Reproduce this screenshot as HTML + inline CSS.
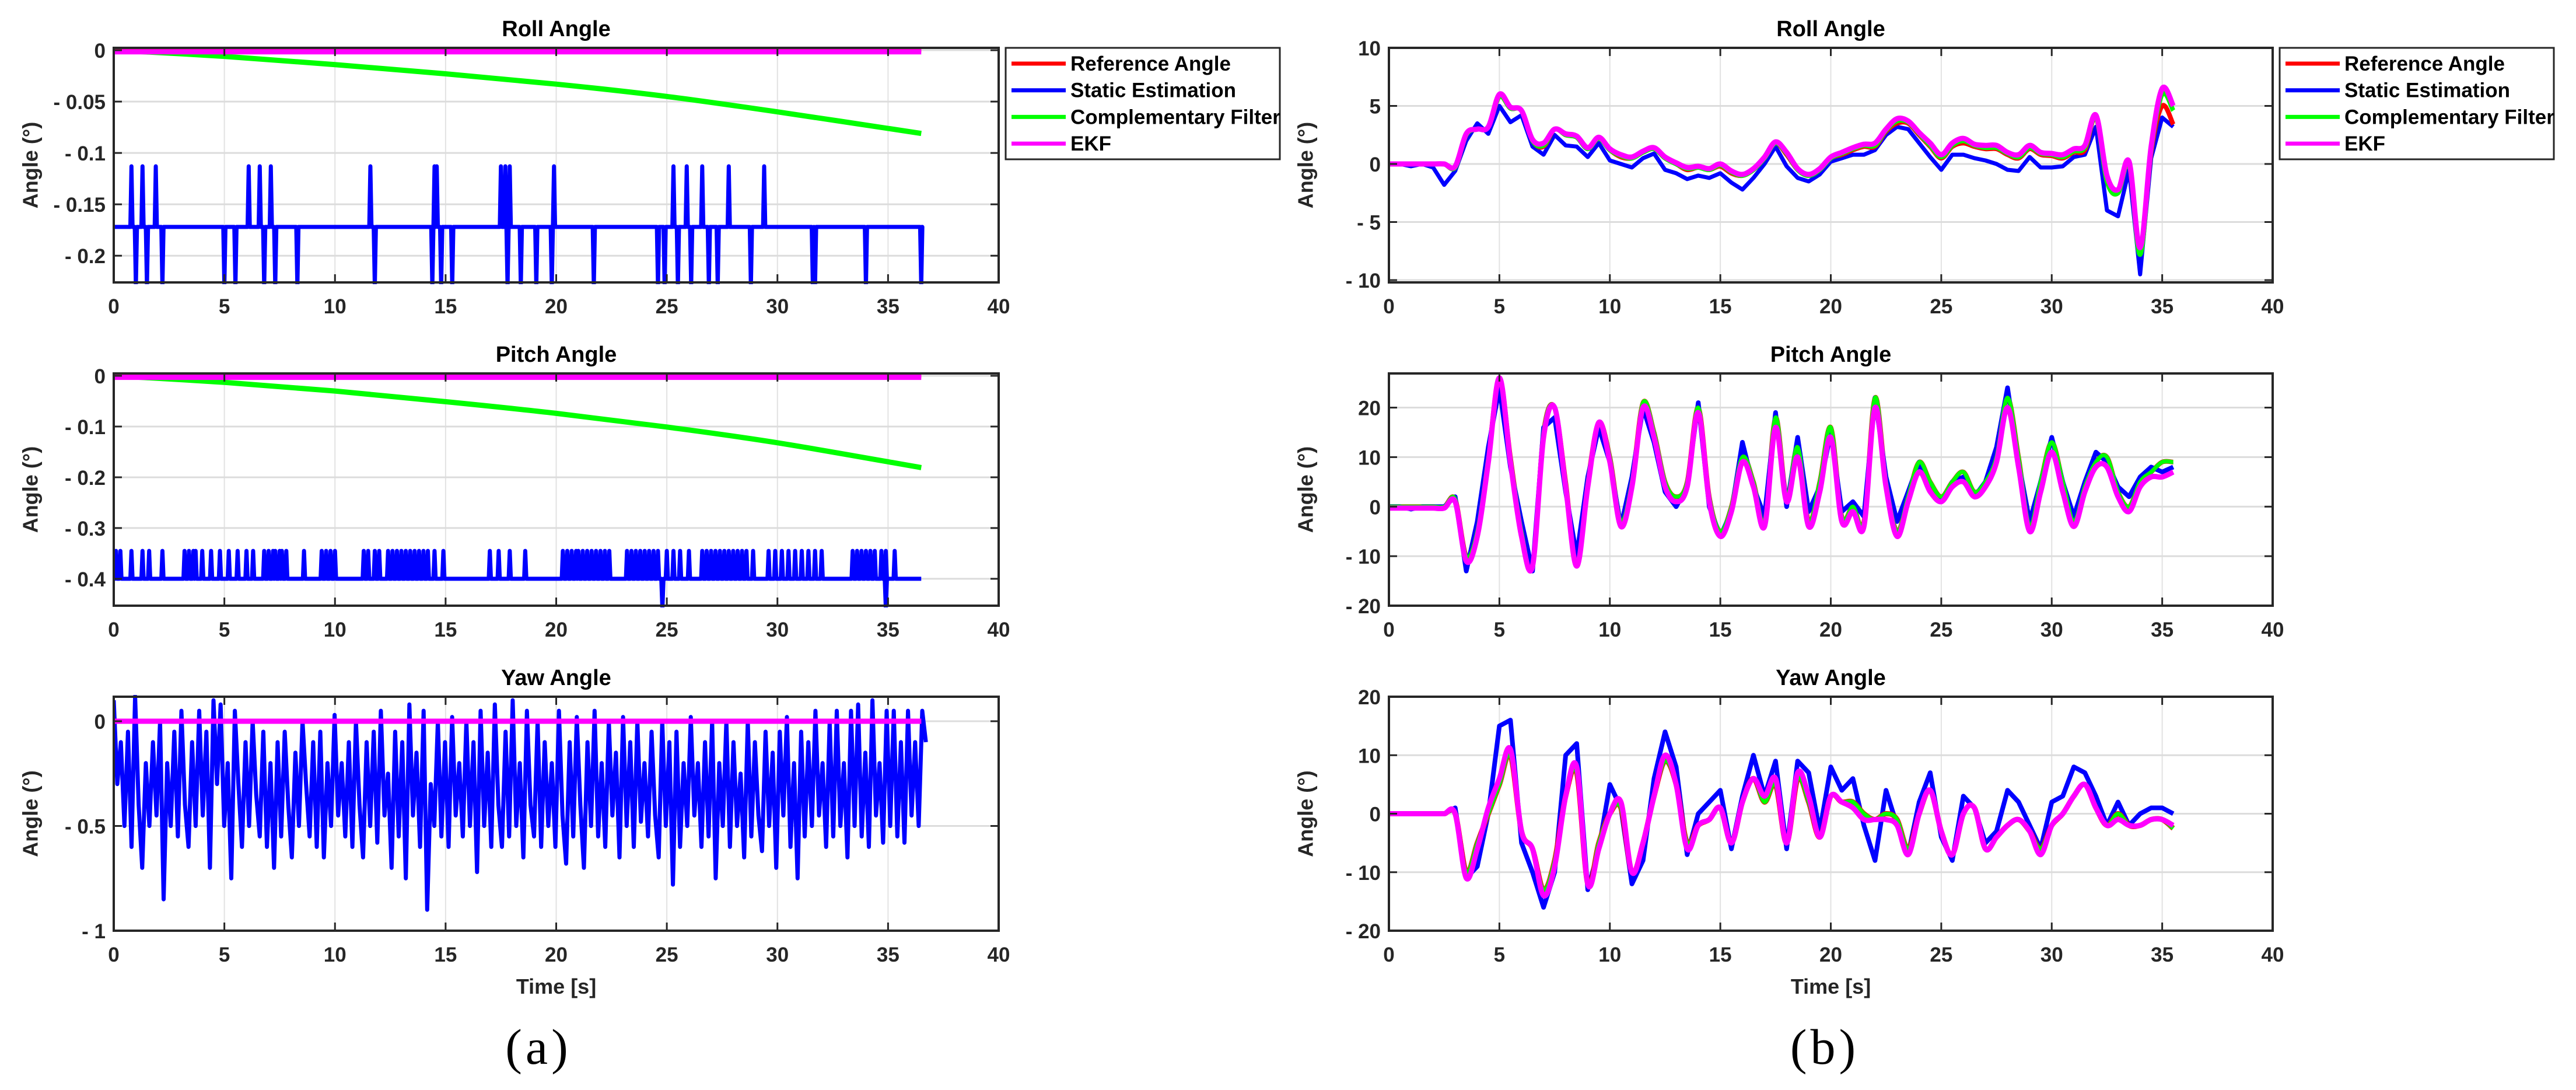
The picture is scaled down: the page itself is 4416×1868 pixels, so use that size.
<!DOCTYPE html>
<html><head><meta charset="utf-8">
<style>
html,body{margin:0;padding:0;background:#fff;}
svg{display:block;font-family:"Liberation Sans",Arial,sans-serif;}
</style></head>
<body>
<svg id="fig" width="4416" height="1868" viewBox="0 0 4416 1868" xmlns="http://www.w3.org/2000/svg">
<rect x="0" y="0" width="4416" height="1868" fill="#fff"/>
</svg>
<script>
// ---------- data ----------
const xTicks = [0,5,10,15,20,25,30,35,40];
// left (a) roll
const compRollT = [0,5,10,15,20,25,30,36.5];
const compRollV = [0,-0.006,-0.014,-0.023,-0.033,-0.045,-0.060,-0.081];
const staticRollBase = -0.172;
const staticRollUpT = [0.8,1.3,1.9,6.1,6.6,7.1,11.6,14.5,14.6,17.5,17.7,17.9,19.9,25.3,25.9,26.6,27.8,29.4];
const staticRollUpV = -0.113;
const staticRollDnT = [1.0,1.5,2.2,5.0,5.5,6.8,7.3,8.3,11.8,14.4,14.8,15.3,17.8,18.4,19.1,19.8,21.7,24.6,24.9,25.5,26.1,26.9,27.3,28.8,31.6,31.7,34.0,36.5];
const staticRollDnV = -0.23;
// left pitch
const compPitchT = [0,5,10,15,20,25,30,36.5];
const compPitchV = [0,-0.013,-0.030,-0.051,-0.074,-0.101,-0.132,-0.181];
const staticPitchBase = -0.40;
const staticPitchUpT = [0.1,0.3,0.8,1.3,1.6,2.2,3.2,3.4,3.6,3.7,4.0,4.4,4.8,5.2,5.6,6.0,6.3,6.8,7.0,7.2,7.3,7.5,7.6,7.8,8.6,9.4,9.6,9.8,10.0,11.3,11.5,11.8,12.0,12.4,12.6,12.8,13.0,13.2,13.4,13.6,13.8,14.0,14.2,14.5,14.9,17.0,17.4,17.9,18.6,20.3,20.5,20.7,20.9,21.0,21.2,21.4,21.6,21.8,22.0,22.2,22.4,23.2,23.4,23.6,23.8,24.0,24.2,24.4,24.6,25.0,25.3,25.6,26.0,26.6,26.8,27.0,27.2,27.4,27.6,27.8,28.0,28.2,28.4,28.6,28.9,29.6,29.9,30.2,30.5,30.8,31.1,31.4,31.7,32.0,33.4,33.6,33.8,34.0,34.2,34.4,34.7,34.9,35.3];
const staticPitchUpV = -0.345;
const staticPitchDnT = [24.8,34.9];
const staticPitchDnV = -0.46;
// left yaw (static estimation extrema, dt = 0.161 s)
const staticYawV = [0.1,-0.3,-0.1,-0.5,-0.05,-0.6,0.12,-0.4,-0.7,-0.2,-0.5,-0.1,-0.45,0.0,-0.85,-0.2,-0.5,-0.05,-0.55,0.05,-0.4,-0.6,-0.1,-0.5,0.05,-0.45,-0.05,-0.7,0.1,-0.3,0.08,-0.5,-0.2,-0.75,0.05,-0.3,-0.6,-0.1,-0.5,0.0,-0.35,-0.55,-0.05,-0.6,-0.2,-0.7,-0.1,-0.55,-0.05,-0.4,-0.65,-0.15,-0.5,0.0,-0.3,-0.55,-0.1,-0.6,-0.05,-0.65,-0.2,-0.5,0.03,-0.45,-0.2,-0.55,-0.1,-0.6,0.0,-0.4,-0.65,-0.1,-0.5,-0.05,-0.58,0.05,-0.45,-0.25,-0.7,-0.05,-0.55,-0.1,-0.75,0.08,-0.45,-0.15,-0.6,0.05,-0.9,-0.3,-0.5,0.0,-0.55,-0.1,-0.6,0.02,-0.45,-0.2,-0.55,0.0,-0.5,-0.1,-0.72,0.05,-0.5,-0.15,-0.6,0.08,-0.4,-0.6,-0.05,-0.55,0.1,-0.5,-0.2,-0.65,0.05,-0.4,-0.55,0.0,-0.6,-0.1,-0.5,-0.2,-0.6,0.05,-0.45,-0.68,-0.1,-0.55,0.02,-0.4,-0.7,-0.1,-0.5,0.05,-0.55,-0.2,-0.6,0.0,-0.45,-0.15,-0.65,0.02,-0.5,-0.1,-0.6,0.0,-0.48,-0.2,-0.55,-0.05,-0.45,-0.65,0.0,-0.5,-0.1,-0.78,-0.05,-0.6,-0.2,-0.5,0.02,-0.45,-0.2,-0.6,-0.1,-0.55,0.0,-0.75,-0.2,-0.5,0.0,-0.6,-0.1,-0.5,-0.25,-0.65,0.0,-0.55,-0.1,-0.45,-0.62,-0.05,-0.5,-0.15,-0.7,-0.05,-0.45,0.02,-0.6,-0.2,-0.75,-0.05,-0.55,-0.1,-0.5,0.05,-0.45,-0.2,-0.6,0.0,-0.55,0.05,-0.5,-0.2,-0.65,0.05,-0.5,0.08,-0.55,-0.15,-0.6,0.1,-0.45,-0.2,-0.58,0.05,-0.5,0.05,-0.55,-0.1,-0.58,0.05,-0.45,-0.1,-0.5,0.05,-0.1];
const staticYawDt = 0.161;
const leftEndT = 36.5;
// right (b) roll, sampled every 0.5 s
const rT = 0.5;
const refRoll = [0,0,0,0,0,0,-0.3,2.5,3.0,3.2,5.8,4.8,4.6,2.0,1.5,3.0,2.5,2.3,1.3,2.2,1.2,0.6,0.5,1.0,1.3,0.5,0.0,-0.5,-0.3,-0.5,-0.2,-0.8,-1.0,-0.5,0.5,1.8,0.8,-0.5,-1.0,-0.5,0.5,0.8,1.2,1.5,1.5,2.8,3.5,3.5,2.5,1.5,0.5,1.5,1.8,1.5,1.3,1.3,0.8,0.5,1.3,0.8,0.7,0.5,1.0,1.2,4.0,-1.5,-2.5,0.0,-7.5,1.0,5.0,3.4];
const staticRoll = [0,0,-0.2,0,-0.3,-1.8,-0.6,2.0,3.5,2.6,5.0,3.6,4.2,1.5,0.8,2.5,1.6,1.5,0.6,1.8,0.3,0.0,-0.3,0.5,0.9,-0.5,-0.8,-1.3,-1.0,-1.2,-0.8,-1.6,-2.2,-1.2,0.0,1.5,-0.2,-1.2,-1.5,-0.9,0.2,0.5,0.8,0.8,1.2,2.5,3.2,3.0,1.8,0.6,-0.5,0.8,0.8,0.5,0.3,0.0,-0.5,-0.6,0.6,-0.3,-0.3,-0.2,0.6,0.8,3.2,-4.0,-4.5,-0.5,-9.5,0.5,4.0,3.2];
const ekfRoll = [0,0,0,0,0,0,-0.2,2.6,3.0,3.2,6.0,4.9,4.6,2.1,1.8,3.0,2.6,2.4,1.4,2.3,1.3,0.8,0.6,1.1,1.4,0.6,0.1,-0.3,-0.2,-0.4,0.0,-0.6,-0.9,-0.4,0.6,1.9,1.0,-0.4,-0.9,-0.4,0.6,1.0,1.4,1.7,1.8,3.0,3.9,3.7,2.7,1.8,0.8,1.8,2.2,1.7,1.6,1.6,1.0,0.8,1.6,1.0,0.9,0.8,1.3,1.6,4.2,-1.0,-2.2,0.2,-7.2,1.5,6.5,5.0];
const compRoll = [0,0,0,0,0,0,-0.3,2.5,3.0,3.2,5.8,4.8,4.6,2.0,1.6,3.0,2.5,2.3,1.3,2.2,1.2,0.7,0.5,1.0,1.3,0.5,0.0,-0.4,-0.3,-0.5,-0.1,-0.7,-1.0,-0.5,0.5,1.8,0.9,-0.5,-1.0,-0.5,0.5,0.9,1.3,1.6,1.6,2.9,3.7,3.6,2.6,1.6,0.6,1.6,2.0,1.6,1.4,1.4,0.9,0.6,1.4,0.9,0.8,0.6,1.1,1.4,4.0,-1.5,-2.5,0.0,-7.8,1.2,6.0,4.6];
// right pitch
const refPitch = [0,0,0,0,0,0,1.5,-10,-5,10,26,10,-5,-12,15,20,5,-12,5,17,10,-3,5,21,15,5,2,5,20,2,-5,0,10,5,-3,18,2,12,-3,5,16,-2,0,-3,22,5,-5,2,9,5,2,5,7,3,5,10,22,10,-4,5,13,5,-3,4,9,10,3,0,5,7,9,9];
const staticPitch = [0,0,-0.5,0,0,0,2,-13,-3,12,24,8,-3,-13,16,18,3,-10,6,16,9,-4,6,20,13,3,0,4,21,0,-6,-1,13,4,-2,19,0,14,-1,4,15,-1,1,-2,22,6,-3,3,9,3,1,5,6,2,5,12,24,9,-3,5,14,5,-2,5,11,9,4,2,6,8,7,8];
const ekfPitch = [-0.3,-0.3,-0.3,-0.3,-0.3,-0.3,1,-11,-6,9,26,9,-6,-12,14,20,4,-12,4,17,9,-4,4,20,14,4,1,4,19,1,-6,-1,9,4,-4,16,1,10,-4,3,14,-3,-1,-4,20,4,-6,1,7,3,1,4,5,2,4,9,20,8,-5,3,11,3,-4,3,8,8,2,-1,4,6,6,7];
// right yaw
const refYaw = [0,0,0,0,0,0,0,-10,-5,0,5,10,-3,-6,-13,-8,3,7,-12,-5,0,1,-10,-5,3,9,5,-5,-2,-1,1,-5,2,6,2,5,-5,6,2,-4,3,2,2,0,-1,0,-1,-6,0,4,-3,-7,0,1,-6,-4,-2,-1,-3,-6,-2,0,3,5,1,-2,0,-2,-2,-1,-1,-2.5];
const staticYaw = [0,0,0,0,0,0,1,-11,-9,0,15,16,-5,-10,-16,-10,10,12,-13,-6,5,1,-12,-8,6,14,8,-7,0,2,4,-6,3,10,3,9,-6,9,7,-3,8,4,6,-2,-8,4,-2,-7,2,7,-4,-8,3,1,-5,-3,4,2,-2,-6,2,3,8,7,3,-2,2,-2,0,1,1,0];
const ekfYaw = [0,0,0,0,0,0,0,-11,-6,1,6,11,-3,-6,-14,-9,3,8,-12,-6,0,2,-10,-5,3,10,5,-6,-2,-1,1,-5,2,6,3,6,-5,7,3,-4,3,2,1,-1,-1,-1,-2,-7,0,4,-3,-7,0,1,-6,-4,-2,-1,-3,-7,-2,0,3,5,1,-2,-1,-2,-2,-1,-1,-2];

// ---------- layout ----------
const NS = "http://www.w3.org/2000/svg";
const fig = document.getElementById('fig');
function el(tag, attrs, parent){
  const e = document.createElementNS(NS, tag);
  for (const k in attrs) e.setAttribute(k, attrs[k]);
  (parent||fig).appendChild(e);
  return e;
}
const COLS = [{x0:195,x1:1712},{x0:2381,x1:3896}];
const ROWS = [{y0:82,y1:484},{y0:640,y1:1038},{y0:1194,y1:1595}];

function makeAxes(col,row,ymin,ymax,yTicks,yLabels,title,name,showXLabel){
  const c = COLS[col], r = ROWS[row];
  const g = el('g',{});
  
  
  const sx = t => c.x0 + t/40*(c.x1-c.x0);
  const sy = v => r.y0 + (ymax-v)/(ymax-ymin)*(r.y1-r.y0);
  xTicks.forEach(t=>{
    if(t>0 && t<40){ const gl = el('line',{x1:sx(t),x2:sx(t),y1:r.y0,y2:r.y1,stroke:'#e2e2e2','stroke-width':2},g);
        }
  });
  yTicks.forEach(v=>{
    const gl = el('line',{x1:c.x0,x2:c.x1,y1:sy(v),y2:sy(v),stroke:'#dcdcdc','stroke-width':3},g);
     
  });
  const tt = el('text',{x:(c.x0+c.x1)/2,y:r.y0-20,'text-anchor':'middle','font-size':38,'font-weight':'bold',fill:'#000'},g);
  tt.textContent = title;
   
  const cy = (r.y0+r.y1)/2, lx = c.x0-140;
  const yl = el('text',{x:lx,y:cy,'text-anchor':'middle','font-size':36,'font-weight':'bold',fill:'#262626',transform:`rotate(-90 ${lx} ${cy})`,'dominant-baseline':'middle'},g);
  yl.textContent = 'Angle (°)';
   
  return {g,sx,sy,c,r,yTicks,yLabels,showXLabel};
}
function finishAxes(A){
  const {g,sx,sy,c,r,yTicks,yLabels,showXLabel} = A;
  el('rect',{x:c.x0,y:r.y0,width:c.x1-c.x0,height:r.y1-r.y0,fill:'none',stroke:'#262626','stroke-width':4},g);
  xTicks.forEach(t=>{
    el('line',{x1:sx(t),x2:sx(t),y1:r.y1,y2:r.y1-14,stroke:'#262626','stroke-width':3},g);
    el('line',{x1:sx(t),x2:sx(t),y1:r.y0,y2:r.y0+14,stroke:'#262626','stroke-width':3},g);
    const tl = el('text',{x:sx(t),y:r.y1+53,'text-anchor':'middle','font-size':35,'font-weight':'bold',fill:'#262626'},g);
    tl.textContent = String(t);
     
  });
  yTicks.forEach((v,i)=>{
    el('line',{x1:c.x0,x2:c.x0+14,y1:sy(v),y2:sy(v),stroke:'#262626','stroke-width':3},g);
    el('line',{x1:c.x1,x2:c.x1-14,y1:sy(v),y2:sy(v),stroke:'#262626','stroke-width':3},g);
    const tl = el('text',{x:c.x0-14,y:sy(v)+13,'text-anchor':'end','font-size':35,'font-weight':'bold',fill:'#262626'},g);
    tl.textContent = yLabels[i];
     
  });
  if(showXLabel){
    const xl = el('text',{x:(c.x0+c.x1)/2,y:1703,'text-anchor':'middle','font-size':36,'font-weight':'bold',fill:'#262626'},g);
    xl.textContent = 'Time [s]';
     
  }
}
function clipFor(A,id){
  const cp = el('clipPath',{id:id},A.g);
  el('rect',{x:A.c.x0,y:A.r.y0-3,width:A.c.x1-A.c.x0,height:A.r.y1-A.r.y0+6},cp);
  return `url(#${id})`;
}
function polyPath(A,ts,vs){
  return ts.map((t,i)=>(i?'L':'M')+A.sx(t).toFixed(1)+','+A.sy(vs[i]).toFixed(1)).join(' ');
}
function smoothPath(A,ts,vs){
  const P = ts.map((t,i)=>[A.sx(t),A.sy(vs[i])]);
  let d = `M${P[0][0].toFixed(1)},${P[0][1].toFixed(1)}`;
  for(let i=0;i<P.length-1;i++){
    const p0=P[Math.max(0,i-1)],p1=P[i],p2=P[i+1],p3=P[Math.min(P.length-1,i+2)];
    const c1=[p1[0]+(p2[0]-p0[0])/6,p1[1]+(p2[1]-p0[1])/6];
    const c2=[p2[0]-(p3[0]-p1[0])/6,p2[1]-(p3[1]-p1[1])/6];
    d+=` C${c1[0].toFixed(1)},${c1[1].toFixed(1)} ${c2[0].toFixed(1)},${c2[1].toFixed(1)} ${p2[0].toFixed(1)},${p2[1].toFixed(1)}`;
  }
  return d;
}
function drawPath(A,d,color,w,clip,name){
  const p = el('path',{d:d,fill:'none',stroke:color,'stroke-width':w,'stroke-linejoin':'round','clip-path':clip},A.g);
  
  
  return p;
}
function spikePath(A,base,upT,upV,dnT,dnV,tEnd){
  const ev = upT.map(t=>[t,upV]).concat(dnT.map(t=>[t,dnV])).sort((a,b)=>a[0]-b[0]);
  let d = `M${A.sx(0)},${A.sy(base)}`;
  ev.forEach(([t,v])=>{
    d+=` L${A.sx(t-0.05)},${A.sy(base)} L${A.sx(t)},${A.sy(v)} L${A.sx(t+0.05)},${A.sy(base)}`;
  });
  d+=` L${A.sx(tEnd)},${A.sy(base)}`;
  return d;
}
function idxT(arr,dt){ return arr.map((_,i)=>i*dt); }

// ---------- (a) roll ----------
let A = makeAxes(0,0,-0.226,0.0023,[0,-0.05,-0.1,-0.15,-0.2],['0','- 0.05','- 0.1','- 0.15','- 0.2'],'Roll Angle','roll-chart-a',false);
let cl = clipFor(A,'c1');
drawPath(A,spikePath(A,staticRollBase,staticRollUpT,staticRollUpV,staticRollDnT,staticRollDnV,leftEndT),'#0000ff',7,cl,'static-estimation-line');
drawPath(A,smoothPath(A,compRollT,compRollV),'#00ff00',9,cl,'complementary-filter-line');
drawPath(A,polyPath(A,[0,leftEndT],[0.0005,0.0005]),'#ff0000',9,cl,'reference-angle-line');
drawPath(A,polyPath(A,[0,leftEndT],[-0.0015,-0.0015]),'#ff00ff',9,cl,'ekf-line');
finishAxes(A);
// ---------- (a) pitch ----------
A = makeAxes(0,1,-0.453,0.0046,[0,-0.1,-0.2,-0.3,-0.4],['0','- 0.1','- 0.2','- 0.3','- 0.4'],'Pitch Angle','pitch-chart-a',false);
cl = clipFor(A,'c2');
drawPath(A,spikePath(A,staticPitchBase,staticPitchUpT,staticPitchUpV,staticPitchDnT,staticPitchDnV,leftEndT),'#0000ff',7,cl,'static-estimation-line');
drawPath(A,smoothPath(A,compPitchT,compPitchV),'#00ff00',9,cl,'complementary-filter-line');
drawPath(A,polyPath(A,[0,leftEndT],[0.001,0.001]),'#ff0000',9,cl,'reference-angle-line');
drawPath(A,polyPath(A,[0,leftEndT],[-0.003,-0.003]),'#ff00ff',9,cl,'ekf-line');
finishAxes(A);
// ---------- (a) yaw ----------
A = makeAxes(0,2,-1,0.117,[0,-0.5,-1],['0','- 0.5','- 1'],'Yaw Angle','yaw-chart-a',true);
cl = clipFor(A,'c3');
drawPath(A,polyPath(A,idxT(staticYawV,staticYawDt),staticYawV),'#0000ff',7,cl,'static-estimation-line');
drawPath(A,polyPath(A,[0,leftEndT],[0,0]),'#ff0000',9,cl,'reference-angle-line');
drawPath(A,polyPath(A,[0,leftEndT],[0,0]),'#ff00ff',9,cl,'ekf-line');
finishAxes(A);
// ---------- (b) roll ----------
A = makeAxes(1,0,-10.2,10,[10,5,0,-5,-10],['10','5','0','- 5','- 10'],'Roll Angle','roll-chart-b',false);
cl = clipFor(A,'c4');
drawPath(A,polyPath(A,idxT(staticRoll,rT),staticRoll),'#0000ff',7,cl,'static-estimation-line');
drawPath(A,smoothPath(A,idxT(refRoll,rT),refRoll),'#ff0000',8,cl,'reference-angle-line');
drawPath(A,smoothPath(A,idxT(compRoll,rT),compRoll),'#00ff00',8,cl,'complementary-filter-line');
drawPath(A,smoothPath(A,idxT(ekfRoll,rT),ekfRoll),'#ff00ff',9,cl,'ekf-line');
finishAxes(A);
// ---------- (b) pitch ----------
A = makeAxes(1,1,-20,26.9,[20,10,0,-10,-20],['20','10','0','- 10','- 20'],'Pitch Angle','pitch-chart-b',false);
cl = clipFor(A,'c5');
drawPath(A,smoothPath(A,idxT(refPitch,rT),refPitch),'#ff0000',8,cl,'reference-angle-line');
drawPath(A,polyPath(A,idxT(staticPitch,rT),staticPitch),'#0000ff',8,cl,'static-estimation-line');
drawPath(A,smoothPath(A,idxT(refPitch,rT),refPitch),'#00ff00',7,cl,'complementary-filter-line');
drawPath(A,smoothPath(A,idxT(ekfPitch,rT),ekfPitch),'#ff00ff',9,cl,'ekf-line');
finishAxes(A);
// ---------- (b) yaw ----------
A = makeAxes(1,2,-20,20,[20,10,0,-10,-20],['20','10','0','- 10','- 20'],'Yaw Angle','yaw-chart-b',true);
cl = clipFor(A,'c6');
drawPath(A,polyPath(A,idxT(staticYaw,rT),staticYaw),'#0000ff',8,cl,'static-estimation-line');
drawPath(A,smoothPath(A,idxT(refYaw,rT),refYaw),'#ff0000',9,cl,'reference-angle-line');
drawPath(A,smoothPath(A,idxT(refYaw,rT),refYaw),'#00ff00',7,cl,'complementary-filter-line');
drawPath(A,smoothPath(A,idxT(ekfYaw,rT),ekfYaw),'#ff00ff',9,cl,'ekf-line');
finishAxes(A);

// ---------- legends ----------
const legItems = ['Reference Angle','Static Estimation','Complementary Filter','EKF'];
const legColors = ['#ff0000','#0000ff','#00ff00','#ff00ff'];
[1724, 3908].forEach((lx,li)=>{
  const lg = el('g',{});
  
  
  el('rect',{x:lx,y:82,width:470,height:191,fill:'#fff',stroke:'#262626','stroke-width':3},lg);
  legItems.forEach((txt,i)=>{
    const yy = 109 + i*45.7;
    const ln = el('line',{x1:lx+10,x2:lx+103,y1:yy,y2:yy,stroke:legColors[i],'stroke-width':7},lg);
    
    
    const t = el('text',{x:lx+111,y:yy+12,'font-size':35,'font-weight':'bold',fill:'#000'},lg);
    t.textContent = txt;
    
    
  });
});
// ---------- panel labels ----------
[[923,'(a)','panel-label-a'],[3128,'(b)','panel-label-b']].forEach(([x,s,n])=>{
  const t = el('text',{x:x,y:1823,'text-anchor':'middle','font-size':86,'font-family':'"Liberation Serif",serif','letter-spacing':'6',fill:'#000'});
  t.textContent = s;
  
  
});
</script>
</body></html>
